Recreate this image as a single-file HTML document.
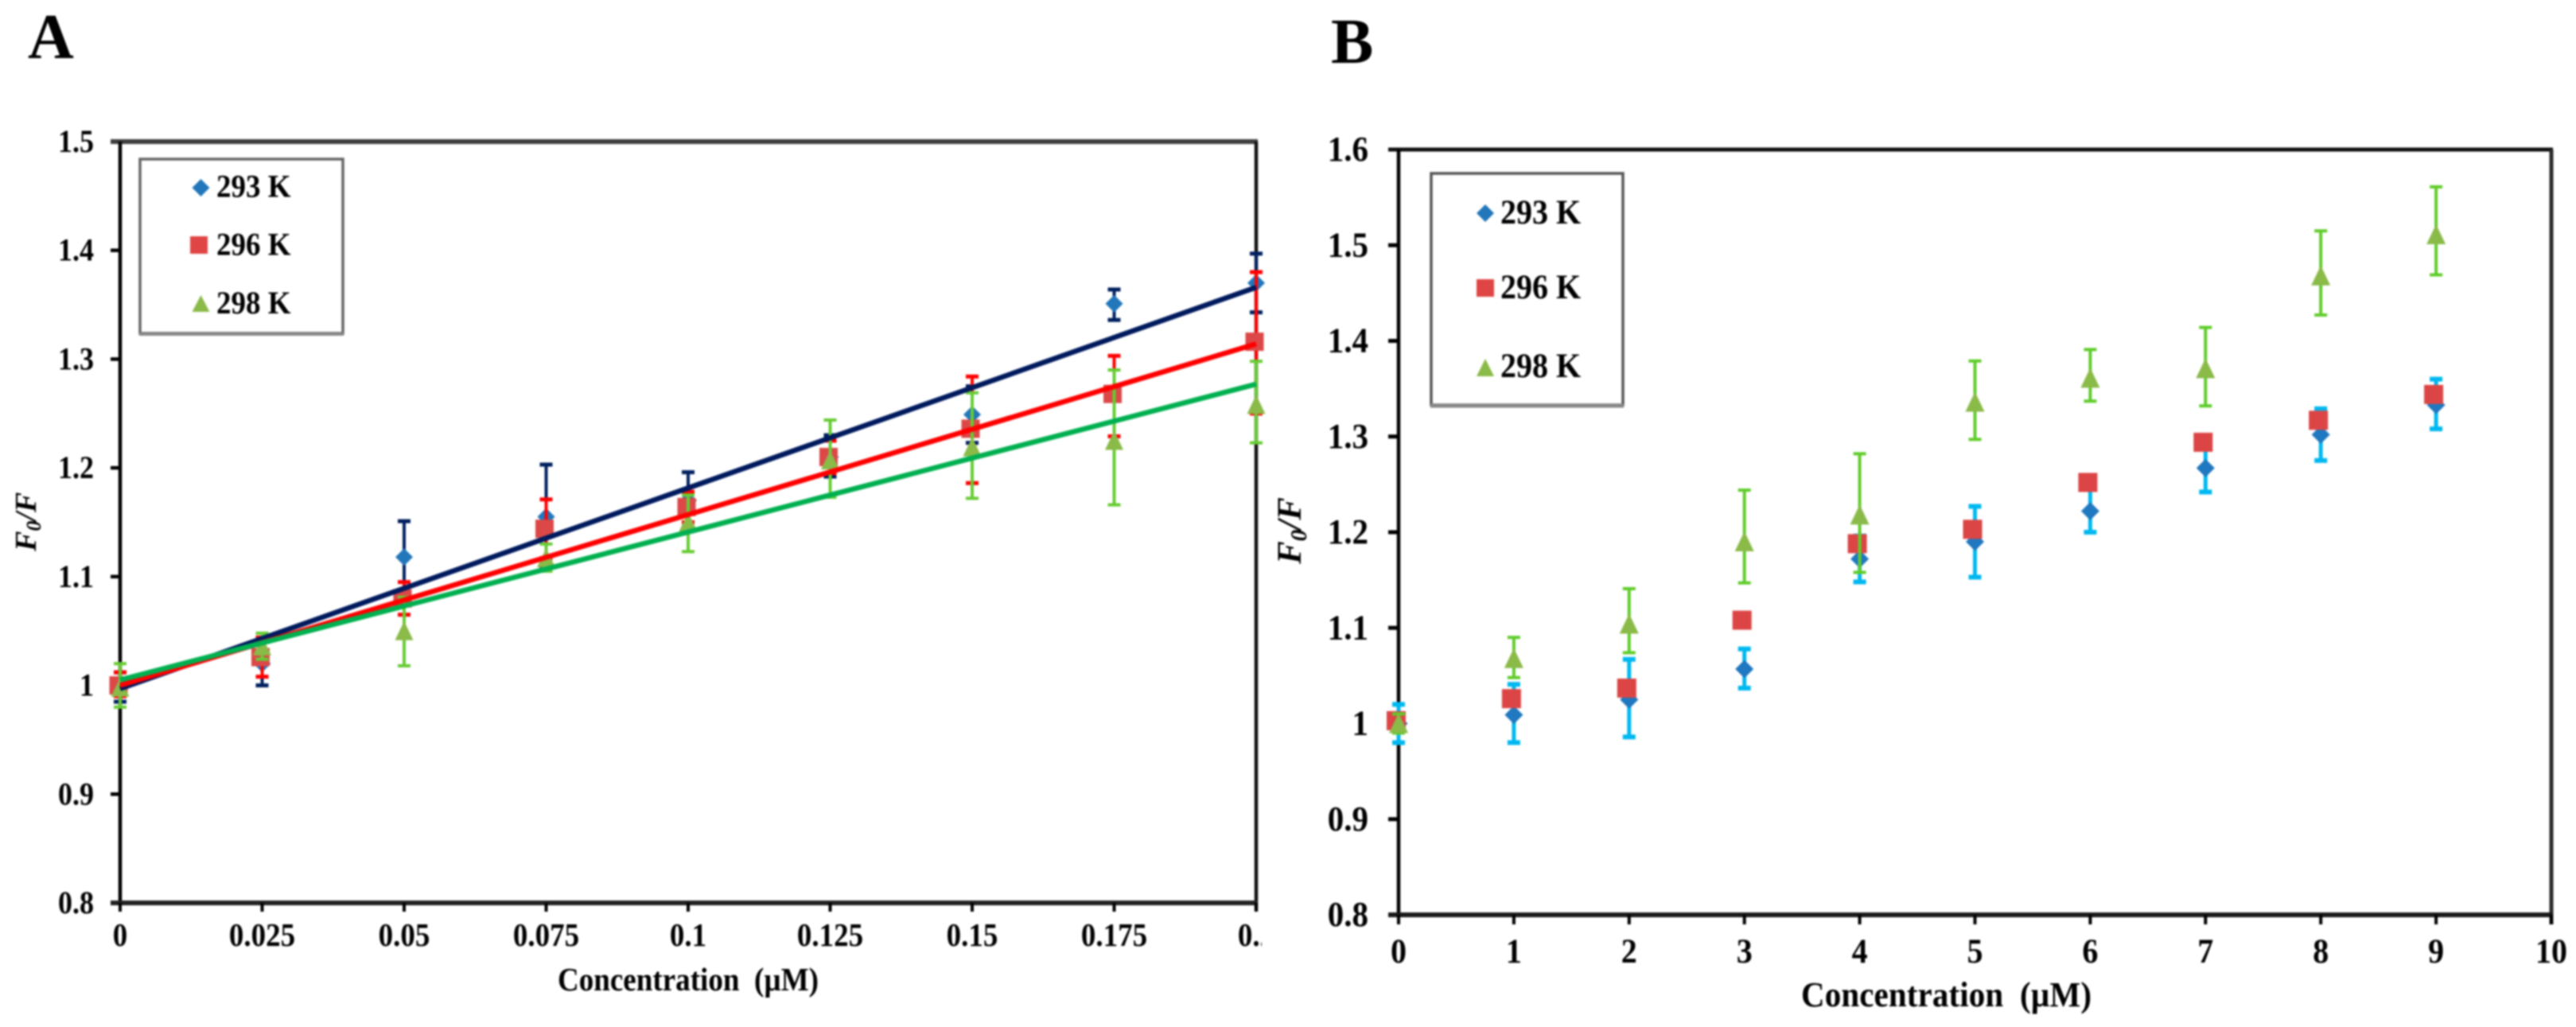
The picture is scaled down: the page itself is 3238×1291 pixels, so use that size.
<!DOCTYPE html>
<html lang="en">
<head>
<meta charset="utf-8">
<title>Stern-Volmer plots A and B</title>
<style>
html,body{margin:0;padding:0;background:#fff;}
svg{display:block;filter:blur(1.1px);}
text{font-family:"Liberation Serif",serif;font-weight:bold;fill:#000;white-space:pre;}
</style>
</head>
<body>
<svg id="figure" xmlns="http://www.w3.org/2000/svg" width="3238" height="1291" viewBox="0 0 3238 1291">
  <rect x="0" y="0" width="3238" height="1291" fill="#fff"/>
  <defs>
    <clipPath id="clip-a-last"><rect x="1500" y="1140" width="86" height="70"/></clipPath>
  </defs>
  <text x="35" y="73" font-size="80" style="fill:#000">A</text>
  <text x="1673" y="79" font-size="80" style="fill:#000">B</text>
  <g id="chart-a"></g>
  <g id="chart-b"></g>

  <text transform="translate(701,1245) scale(1,1.12)" font-size="37" textLength="328" lengthAdjust="spacing">Concentration  (µM)</text>
  <text transform="translate(2264,1265) scale(1,1.09)" font-size="41" textLength="365" lengthAdjust="spacing">Concentration  (µM)</text>
  <text transform="translate(45,693) rotate(-90)" font-size="38" font-style="italic">F<tspan font-size="26" dy="6">0</tspan><tspan dy="-6">/F</tspan></text>
  <text transform="translate(1635,709) rotate(-90)" font-size="43" font-style="italic">F<tspan font-size="29" dy="7">0</tspan><tspan dy="-7">/F</tspan></text>

  <g>
    <rect x="176" y="200" width="255" height="219" fill="#fff" stroke="#666" stroke-width="3.5"/>
    <line x1="175" y1="420" x2="432" y2="420" stroke="#888" stroke-width="4"/>
    <polygon points="252.5,225 263.5,236 252.5,247 241.5,236" fill="#2277bb"/>
    <rect x="239" y="297" width="22" height="22" fill="#e04545"/>
    <polygon points="252.5,371 263.5,392 241.5,392" fill="#8aba48"/>
    <text transform="translate(272,247.5) scale(1,1.1)" font-size="37">293 K</text>
    <text transform="translate(272,320.5) scale(1,1.1)" font-size="37">296 K</text>
    <text transform="translate(272,394) scale(1,1.1)" font-size="37">298 K</text>
  </g>
  <g>
    <rect x="1799" y="218" width="241" height="291" fill="#fff" stroke="#555" stroke-width="3.5"/>
    <line x1="1798" y1="510" x2="2041" y2="510" stroke="#888" stroke-width="5"/>
    <polygon points="1867,257 1878,268 1867,279 1856,268" fill="#2277bb"/>
    <rect x="1856" y="351" width="22" height="22" fill="#e04545"/>
    <polygon points="1867,451 1878,473 1856,473" fill="#8aba48"/>
    <text transform="translate(1886,281) scale(1,1.08)" font-size="40">293 K</text>
    <text transform="translate(1886,375) scale(1,1.08)" font-size="40">296 K</text>
    <text transform="translate(1886,474) scale(1,1.08)" font-size="40">298 K</text>
  </g>
</svg>
<script>
// Panel A data
const aCategories = [0, 0.025, 0.05, 0.075, 0.1, 0.125, 0.15, 0.175, 0.2];
const aTickLabelsX = ['0', '0.025', '0.05', '0.075', '0.1', '0.125', '0.15', '0.175', '0.2'];
const aTicksY = [0.8, 0.9, 1.0, 1.1, 1.2, 1.3, 1.4, 1.5];
const aTickLabelsY = ['0.8', '0.9', '1', '1.1', '1.2', '1.3', '1.4', '1.5'];
const a293Values = [0.998, 1.02, 1.118, 1.155, 1.17, 1.21, 1.249, 1.351, 1.37];
const a293Upper = [1.012, 1.04, 1.151, 1.203, 1.196, 1.23, 1.275, 1.364, 1.397];
const a293Lower = [0.985, 1.0, 1.085, 1.108, 1.145, 1.192, 1.223, 1.336, 1.343];
const a296Values = [1.0, 1.026, 1.08, 1.144, 1.164, 1.21, 1.236, 1.268, 1.316];
const a296Upper = [1.012, 1.044, 1.095, 1.171, 1.178, 1.225, 1.284, 1.303, 1.38];
const a296Lower = [0.99, 1.008, 1.065, 1.117, 1.15, 1.195, 1.186, 1.229, 1.25];
const a298Values = [0.998, 1.036, 1.05, 1.117, 1.15, 1.207, 1.219, 1.225, 1.258];
const a298Upper = [1.02, 1.048, 1.081, 1.13, 1.175, 1.244, 1.269, 1.29, 1.298];
const a298Lower = [0.98, 1.024, 1.018, 1.105, 1.123, 1.173, 1.172, 1.166, 1.223];
const aFitIntercepts = [0.997, 1.0, 1.005];
const aFitSlopes = [1.845, 1.57, 1.36];

// Panel B data
const bCategories = [0, 1, 2, 3, 4, 5, 6, 7, 8, 9];
const bTicksX = [0, 1, 2, 3, 4, 5, 6, 7, 8, 9, 10];
const bTickLabelsX = ['0', '1', '2', '3', '4', '5', '6', '7', '8', '9', '10'];
const bTicksY = [0.8, 0.9, 1.0, 1.1, 1.2, 1.3, 1.4, 1.5, 1.6];
const bTickLabelsY = ['0.8', '0.9', '1', '1.1', '1.2', '1.3', '1.4', '1.5', '1.6'];
const b293Values = [1.0, 1.009, 1.025, 1.057, 1.172, 1.19, 1.222, 1.267, 1.302, 1.333];
const b293Upper = [1.02, 1.041, 1.067, 1.078, 1.196, 1.227, 1.245, 1.292, 1.329, 1.36];
const b293Lower = [0.98, 0.98, 0.986, 1.037, 1.148, 1.153, 1.2, 1.242, 1.275, 1.308];
const b296Values = [1.003, 1.026, 1.037, 1.108, 1.188, 1.203, 1.252, 1.294, 1.317, 1.344];
const b298Values = [1.0, 1.068, 1.104, 1.19, 1.218, 1.336, 1.361, 1.371, 1.468, 1.511];
const b298Upper = [1.01, 1.09, 1.141, 1.244, 1.282, 1.379, 1.391, 1.414, 1.515, 1.561];
const b298Lower = [0.99, 1.048, 1.074, 1.147, 1.158, 1.297, 1.337, 1.332, 1.427, 1.469];

// Axis functions
function xA(v) { return 151 + (v / 0.2) * 1428; }
function yA(v) { return 1135 - ((v - 0.8) / 0.7) * 957; }
function xB(v) { return 1758 + (v / 10) * 1449; }
function yB(v) { return 1150 - ((v - 0.8) / 0.8) * 962; }

const NS = 'http://www.w3.org/2000/svg';
function mk(parent, tag, attrs) {
  const node = document.createElementNS(NS, tag);
  for (const key in attrs) node.setAttribute(key, attrs[key]);
  parent.appendChild(node);
  return node;
}
function drawLine(parent, name, x1, y1, x2, y2, color, width) {
  const el = mk(parent, 'line', { x1: x1, y1: y1, x2: x2, y2: y2, stroke: color, 'stroke-width': width });
  
  
  return el;
}
function drawLabel(parent, name, txt, x, y, size, sy, anchor) {
  const el = mk(parent, 'text', { transform: 'translate(' + x + ',' + y + ') scale(1,' + sy + ')', 'font-size': size, 'text-anchor': anchor });
  el.textContent = txt;
  
  
  return el;
}
function drawMarker(parent, name, shape, cx, cy, size, color) {
  const h = size / 2;
  let el;
  if (shape === 'diamond') {
    el = mk(parent, 'polygon', { points: cx + ',' + (cy - h) + ' ' + (cx + h) + ',' + cy + ' ' + cx + ',' + (cy + h) + ' ' + (cx - h) + ',' + cy, fill: color });
  } else if (shape === 'square') {
    el = mk(parent, 'rect', { x: cx - h, y: cy - h, width: size, height: size, fill: color });
  } else {
    el = mk(parent, 'polygon', { points: cx + ',' + (cy - h - 1) + ' ' + (cx + h) + ',' + (cy + h) + ' ' + (cx - h) + ',' + (cy + h), fill: color });
  }
  
  
  return el;
}
function drawSeries(parent, key, cats, vals, upper, lower, xf, yf, shape, color, errColor, errWidth, capWidth, dx, size) {
  const g = mk(parent, 'g', {});
  
  
  cats.forEach(function (c, i) {
    const x = xf(c);
    if (upper && lower) {
      drawLine(g, 'error-bar-' + key, x, yf(upper[i]), x, yf(lower[i]), errColor, errWidth);
      drawLine(g, 'error-cap-upper-' + key, x - 8, yf(upper[i]), x + 8, yf(upper[i]), errColor, capWidth);
      drawLine(g, 'error-cap-lower-' + key, x - 8, yf(lower[i]), x + 8, yf(lower[i]), errColor, capWidth);
    }
  });
  cats.forEach(function (c, i) {
    drawMarker(g, 'point-' + key, shape, xf(c) + dx, yf(vals[i]), size, color);
  });
}

// Panel A
const chartA = document.getElementById('chart-a');
drawLine(chartA, 'plot-top-border', 139, yA(1.5), 1581, yA(1.5), '#3e3e3e', 6);
drawLine(chartA, 'y-axis-line', 151, yA(1.5), 151, yA(0.8), '#000', 4.5);
drawLine(chartA, 'plot-right-border', 1579, yA(1.5), 1579, yA(0.8) + 10, '#111', 4.5);
drawLine(chartA, 'x-axis-line', 139, yA(0.8), 1581, yA(0.8), '#222', 6);
aTicksY.forEach(function (v, i) {
  if (v !== 1.0 && v !== 0.8 && v !== 1.5) drawLine(chartA, 'y-tick', 139, yA(v), 151, yA(v), '#000', 4.5);
  drawLabel(chartA, 'y-tick-label', aTickLabelsY[i], 118, yA(v) + 13, 36, 1.13, 'end');
});
aCategories.forEach(function (v, i) {
  drawLine(chartA, 'x-tick', xA(v), yA(0.8), xA(v), yA(0.8) + 11, '#000', 4);
  const label = drawLabel(chartA, 'x-tick-label', aTickLabelsX[i], xA(v), 1189, 37, 1.12, 'middle');
  if (i === aCategories.length - 1) {
    const wrap = mk(chartA, 'g', { 'clip-path': 'url(#clip-a-last)' });
    
    
    wrap.appendChild(label);
  }
});
drawSeries(chartA, 'a-293k', aCategories, a293Values, a293Upper, a293Lower, xA, yA, 'diamond', '#2277bb', '#00205f', 4, 5, 0, 22);
drawSeries(chartA, 'a-296k', aCategories, a296Values, a296Upper, a296Lower, xA, yA, 'square', '#dc4848', '#ff0000', 4, 5, -2, 23);
drawSeries(chartA, 'a-298k', aCategories, a298Values, a298Upper, a298Lower, xA, yA, 'triangle', '#8aba48', '#66cc33', 4, 4, 0, 23);
const fitColors = ['#001a5e', '#ff0000', '#00b050'];
const fitNames = ['fit-line-293k', 'fit-line-296k', 'fit-line-298k'];
aFitIntercepts.forEach(function (b, i) {
  const xEnd = aCategories[aCategories.length - 1];
  drawLine(chartA, fitNames[i], xA(0), yA(b), xA(xEnd), yA(b + aFitSlopes[i] * xEnd), fitColors[i], 6.5);
});

// Panel B
const chartB = document.getElementById('chart-b');
drawLine(chartB, 'plot-top-border', 1745, yB(1.6), 3209, yB(1.6), '#111', 5);
drawLine(chartB, 'y-axis-line', 1758, yB(1.6), 1758, yB(0.8), '#000', 4.5);
drawLine(chartB, 'plot-right-border', 3207, yB(1.6), 3207, yB(0.8) + 12, '#2a2a2a', 5);
drawLine(chartB, 'x-axis-line', 1745, yB(0.8), 3209, yB(0.8), '#1a1a1a', 6);
bTicksY.forEach(function (v, i) {
  if (v !== 1.0 && v !== 0.8 && v !== 1.6) drawLine(chartB, 'y-tick', 1745, yB(v), 1758, yB(v), '#000', 5);
  drawLabel(chartB, 'y-tick-label', bTickLabelsY[i], 1720, yB(v) + 14, 41, 1.08, 'end');
});
bTicksX.forEach(function (v, i) {
  drawLine(chartB, 'x-tick', xB(v), yB(0.8), xB(v), yB(0.8) + 12, '#000', 4);
  drawLabel(chartB, 'x-tick-label', bTickLabelsX[i], xB(v), 1210, 40, 1.09, 'middle');
});
drawSeries(chartB, 'b-293k', bCategories, b293Values, b293Upper, b293Lower, xB, yB, 'diamond', '#1f78c0', '#00b8f0', 5, 6, 0, 23);
drawSeries(chartB, 'b-296k', bCategories, b296Values, null, null, xB, yB, 'square', '#dc4545', '#dc4545', 0, 0, -3, 24);
drawSeries(chartB, 'b-298k', bCategories, b298Values, b298Upper, b298Lower, xB, yB, 'triangle', '#8aba48', '#5fcc2a', 4, 4, 0, 24);
</script>
</body>
</html>
